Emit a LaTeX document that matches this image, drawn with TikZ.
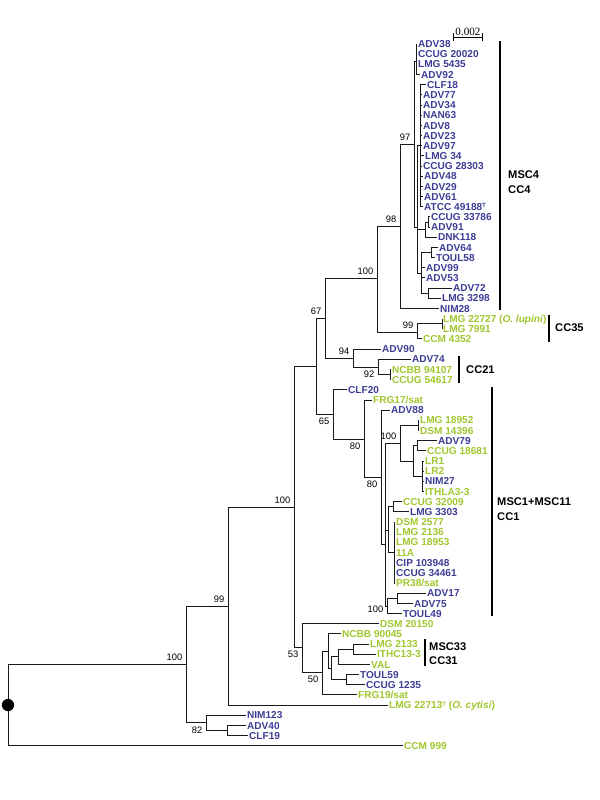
\documentclass[tikz,border=0pt]{standalone}
\usepackage{fontspec}
\setmainfont{Liberation Sans}
\newfontfamily\barfont{Liberation Serif}
\usetikzlibrary{positioning}
\definecolor{strainblue}{RGB}{60,60,150}
\definecolor{straingreen}{RGB}{160,198,45}
\newcommand{\typestrain}{{\fontsize{5.2}{5}\selectfont\raisebox{2.2pt}{T}}}
\tikzset{
  branch/.style={line width=0.75pt,draw=black!90},
  leaf/.style={anchor=west,inner xsep=0.8pt,inner ysep=0pt,text height=6.2pt,text depth=0pt,
    font=\fontsize{8.6}{9}\selectfont\bfseries},
  bleaf/.style={leaf,text=strainblue},
  gleaf/.style={leaf,text=straingreen},
  boot/.style={inner sep=0pt,text height=5.7pt,text depth=0pt,font=\fontsize{8}{8}\selectfont},
  clade/.style={anchor=west,inner sep=0pt,text height=6.8pt,text depth=0pt,
    font=\fontsize{9.5}{10}\selectfont\bfseries},
  cladebar/.style={line width=2.3pt},
  rootdot/.style={circle,fill=black,inner sep=0pt,minimum size=10.5pt},
  scalebar/.style={line width=0.6pt,|-|},
  scaletxt/.style={inner sep=0pt,font=\barfont\fontsize{9.5}{10}\selectfont}
}

\begin{document}
\begin{tikzpicture}[x=0.03cm,y=-0.03cm]
  \useasboundingbox (0,0) rectangle (600,800);

  % strains
  \node[bleaf] (l1) at (417,44.0) {ADV38};
  \node[bleaf] (l2) at (417,54.2) {CCUG 20020};
  \node[bleaf] (l3) at (417,64.3) {LMG 5435};
  \node[bleaf] (l4) at (420,74.5) {ADV92};
  \node[bleaf] (l5) at (426,84.7) {CLF18};
  \node[bleaf] (l6) at (422,94.9) {ADV77};
  \node[bleaf] (l7) at (422,105.0) {ADV34};
  \node[bleaf] (l8) at (422,115.2) {NAN63};
  \node[bleaf] (l9) at (422,125.4) {ADV8};
  \node[bleaf] (l10) at (422,135.5) {ADV23};
  \node[bleaf] (l11) at (422,145.7) {ADV97};
  \node[bleaf] (l12) at (424,155.9) {LMG 34};
  \node[bleaf] (l13) at (422,166.0) {CCUG 28303};
  \node[bleaf] (l14) at (423,176.2) {ADV48};
  \node[bleaf] (l15) at (423,186.4) {ADV29};
  \node[bleaf] (l16) at (423,196.6) {ADV61};
  \node[bleaf] (l17) at (423,206.7) {ATCC 49188\typestrain};
  \node[bleaf] (l18) at (430,216.9) {CCUG 33786};
  \node[bleaf] (l19) at (430,227.1) {ADV91};
  \node[bleaf] (l20) at (437,237.2) {DNK118};
  \node[bleaf] (l21) at (438,247.4) {ADV64};
  \node[bleaf] (l22) at (435,257.6) {TOUL58};
  \node[bleaf] (l23) at (425,267.7) {ADV99};
  \node[bleaf] (l24) at (425,277.9) {ADV53};
  \node[bleaf] (l25) at (452,288.1) {ADV72};
  \node[bleaf] (l26) at (441,298.3) {LMG 3298};
  \node[bleaf] (l27) at (439,308.4) {NIM28};
  \node[gleaf] (l28) at (442,318.6) {LMG 22727 (\textit{O.~lupini})};
  \node[gleaf] (l29) at (442,328.8) {LMG 7991};
  \node[gleaf] (l30) at (422,338.9) {CCM 4352};
  \node[bleaf] (l31) at (381,349.1) {ADV90};
  \node[bleaf] (l32) at (411,359.3) {ADV74};
  \node[gleaf] (l33) at (391,369.4) {NCBB 94107};
  \node[gleaf] (l34) at (391,379.6) {CCUG 54617};
  \node[bleaf] (l35) at (347,389.8) {CLF20};
  \node[gleaf] (l36) at (372,400.0) {FRG17/sat};
  \node[bleaf] (l37) at (390,410.1) {ADV88};
  \node[gleaf] (l38) at (419,420.3) {LMG 18952};
  \node[gleaf] (l39) at (419,430.5) {DSM 14396};
  \node[bleaf] (l40) at (437,440.6) {ADV79};
  \node[gleaf] (l41) at (426,450.8) {CCUG 18681};
  \node[gleaf] (l42) at (424,461.0) {LR1};
  \node[gleaf] (l43) at (424,471.1) {LR2};
  \node[bleaf] (l44) at (424,481.3) {NIM27};
  \node[gleaf] (l45) at (424,491.5) {ITHLA3-3};
  \node[gleaf] (l46) at (402,501.7) {CCUG 32009};
  \node[bleaf] (l47) at (409,511.8) {LMG 3303};
  \node[gleaf] (l48) at (395,522.0) {DSM 2577};
  \node[gleaf] (l49) at (395,532.2) {LMG 2136};
  \node[gleaf] (l50) at (395,542.3) {LMG 18953};
  \node[gleaf] (l51) at (395,552.5) {11A};
  \node[bleaf] (l52) at (395,562.7) {CIP 103948};
  \node[bleaf] (l53) at (395,572.8) {CCUG 34461};
  \node[gleaf] (l54) at (395,583.0) {PR38/sat};
  \node[bleaf] (l55) at (426,593.2) {ADV17};
  \node[bleaf] (l56) at (413,603.4) {ADV75};
  \node[bleaf] (l57) at (402,613.5) {TOUL49};
  \node[gleaf] (l58) at (379,623.7) {DSM 20150};
  \node[gleaf] (l59) at (341,633.9) {NCBB 90045};
  \node[gleaf] (l60) at (369,644.0) {LMG 2133};
  \node[gleaf] (l61) at (376,654.2) {ITHC13-3};
  \node[gleaf] (l62) at (370,664.4) {VAL};
  \node[bleaf] (l63) at (359,674.5) {TOUL59};
  \node[bleaf] (l64) at (365,684.7) {CCUG 1235};
  \node[gleaf] (l65) at (357,694.9) {FRG19/sat};
  \node[gleaf] (l66) at (388,705.1) {LMG 22713\typestrain{} (\textit{O.~cytisi})};
  \node[bleaf] (l67) at (246,715.2) {NIM123};
  \node[bleaf] (l68) at (246,725.4) {ADV40};
  \node[bleaf] (l69) at (248,735.6) {CLF19};
  \node[gleaf] (l70) at (403,745.7) {CCM 999};

  % internal nodes
  \coordinate (root) at (8,705);
  \coordinate (n100b) at (186,664);
  \coordinate (n82) at (206,722.6);
  \coordinate (n82b) at (227,730.5);
  \coordinate (n99) at (228,606);
  \coordinate (n100a) at (294,507);
  \coordinate (nX) at (316,366);
  \coordinate (n67) at (325,318);
  \coordinate (n100c) at (377,278);
  \coordinate (n98) at (400,226);
  \coordinate (n97) at (414,144);
  \coordinate (nK) at (416,61);
  \coordinate (nU) at (417,227);
  \coordinate (nN) at (420,145.7);
  \coordinate (nL) at (425,229);
  \coordinate (nM) at (428,222);
  \coordinate (nS) at (421,273);
  \coordinate (nP) at (431,252.5);
  \coordinate (nR) at (428,293.2);
  \coordinate (n99b) at (417,332);
  \coordinate (nO) at (442,323.7);
  \coordinate (n94) at (353,358);
  \coordinate (n92) at (378,367);
  \coordinate (nV) at (390,374.5);
  \coordinate (n65) at (333,414);
  \coordinate (n80a) at (364,439);
  \coordinate (n80b) at (381,477);
  \coordinate (nG) at (385,544);
  \coordinate (nA) at (400,443);
  \coordinate (nE) at (418,425.4);
  \coordinate (nB) at (413,461);
  \coordinate (nC) at (417,445.7);
  \coordinate (nD) at (422,476.2);
  \coordinate (nIJ) at (388,530);
  \coordinate (nI) at (393,506.7);
  \coordinate (nJ) at (394,552.5);
  \coordinate (nH) at (387,606);
  \coordinate (nF) at (397,598.3);
  \coordinate (n53) at (302,647);
  \coordinate (n50) at (322,672);
  \coordinate (nY) at (328,651);
  \coordinate (nAD) at (331,668);
  \coordinate (nAB) at (338,656);
  \coordinate (nAA) at (353,649.1);
  \coordinate (nAC) at (346,679.6);

  % branches
  \draw[branch] (root) |- (n100b);
  \draw[branch] (root) |- (l70.west);
  \draw[branch] (n100b) |- (n99);
  \draw[branch] (n100b) |- (n82);
  \draw[branch] (n82) |- (l67.west);
  \draw[branch] (n82) |- (n82b);
  \draw[branch] (n82b) |- (l68.west);
  \draw[branch] (n82b) |- (l69.west);
  \draw[branch] (n99) |- (n100a);
  \draw[branch] (n99) |- (l66.west);
  \draw[branch] (n100a) |- (nX);
  \draw[branch] (n100a) |- (n53);
  \draw[branch] (nX) |- (n67);
  \draw[branch] (nX) |- (n65);
  \draw[branch] (n67) |- (n100c);
  \draw[branch] (n67) |- (n94);
  \draw[branch] (n100c) |- (n98);
  \draw[branch] (n100c) |- (n99b);
  \draw[branch] (n98) |- (n97);
  \draw[branch] (n98) |- (l27.west);
  \draw[branch] (n97) |- (nK);
  \draw[branch] (n97) |- (nU);
  \foreach \c in {1,...,4} \draw[branch] (nK) |- (l\c.west);
  \draw[branch] (nU) |- (nN);
  \draw[branch] (nU) |- (nL);
  \draw[branch] (nU) |- (nS);
  \foreach \c in {5,...,17} \draw[branch] (nN) |- (l\c.west);
  \draw[branch] (nL) |- (nM);
  \draw[branch] (nL) |- (l20.west);
  \draw[branch] (nM) |- (l18.west);
  \draw[branch] (nM) |- (l19.west);
  \draw[branch] (nS) |- (nP);
  \draw[branch] (nS) |- (l23.west);
  \draw[branch] (nS) |- (l24.west);
  \draw[branch] (nS) |- (nR);
  \draw[branch] (nP) |- (l21.west);
  \draw[branch] (nP) |- (l22.west);
  \draw[branch] (nR) |- (l25.west);
  \draw[branch] (nR) |- (l26.west);
  \draw[branch] (n99b) |- (nO);
  \draw[branch] (n99b) |- (l30.west);
  \draw[branch] (nO) |- (l28.west);
  \draw[branch] (nO) |- (l29.west);
  \draw[branch] (n94) |- (l31.west);
  \draw[branch] (n94) |- (n92);
  \draw[branch] (n92) |- (l32.west);
  \draw[branch] (n92) |- (nV);
  \draw[branch] (nV) |- (l33.west);
  \draw[branch] (nV) |- (l34.west);
  \draw[branch] (n65) |- (l35.west);
  \draw[branch] (n65) |- (n80a);
  \draw[branch] (n80a) |- (l36.west);
  \draw[branch] (n80a) |- (n80b);
  \draw[branch] (n80b) |- (l37.west);
  \draw[branch] (n80b) |- (nG);
  \draw[branch] (nG) |- (nA);
  \draw[branch] (nG) |- (nIJ);
  \draw[branch] (nG) |- (nH);
  \draw[branch] (nA) |- (nE);
  \draw[branch] (nA) |- (nB);
  \draw[branch] (nE) |- (l38.west);
  \draw[branch] (nE) |- (l39.west);
  \draw[branch] (nB) |- (nC);
  \draw[branch] (nB) |- (nD);
  \draw[branch] (nC) |- (l40.west);
  \draw[branch] (nC) |- (l41.west);
  \foreach \c in {42,...,45} \draw[branch] (nD) |- (l\c.west);
  \draw[branch] (nIJ) |- (nI);
  \draw[branch] (nIJ) |- (nJ);
  \draw[branch] (nI) |- (l46.west);
  \draw[branch] (nI) |- (l47.west);
  \foreach \c in {48,...,54} \draw[branch] (nJ) |- (l\c.west);
  \draw[branch] (nH) |- (nF);
  \draw[branch] (nH) |- (l57.west);
  \draw[branch] (nF) |- (l55.west);
  \draw[branch] (nF) |- (l56.west);
  \draw[branch] (n53) |- (l58.west);
  \draw[branch] (n53) |- (n50);
  \draw[branch] (n50) |- (nY);
  \draw[branch] (n50) |- (l65.west);
  \draw[branch] (nY) |- (l59.west);
  \draw[branch] (nY) |- (nAD);
  \draw[branch] (nAD) |- (nAB);
  \draw[branch] (nAD) |- (nAC);
  \draw[branch] (nAB) |- (nAA);
  \draw[branch] (nAB) |- (l62.west);
  \draw[branch] (nAA) |- (l60.west);
  \draw[branch] (nAA) |- (l61.west);
  \draw[branch] (nAC) |- (l63.west);
  \draw[branch] (nAC) |- (l64.west);
  \node[rootdot] (rootmark) at (root) {};

  % bootstrap values
  \node[boot,above left=3pt and 3pt of n97] (s97) {97};
  \node[boot,above left=3pt and 3pt of n98] (s98) {98};
  \node[boot,above left=3pt and 3pt of n100c] (s100c) {100};
  \node[boot,above left=3pt and 3pt of n67] (s67) {67};
  \node[boot,above left=3pt and 3pt of n99b] (s99b) {99};
  \node[boot,above left=3pt and 3pt of n94] (s94) {94};
  \node[boot,below left=3pt and 3pt of n92] (s92) {92};
  \node[boot,below left=3pt and 3pt of n65] (s65) {65};
  \node[boot,below left=3pt and 3pt of n80a] (s80a) {80};
  \node[boot,above left=3pt and 3pt of nA] (s100A) {100};
  \node[boot,below left=3pt and 3pt of n80b] (s80b) {80};
  \node[boot,below left=0pt and 3pt of nH] (s100H) {100};
  \node[boot,above left=3pt and 3pt of n100a] (s100a) {100};
  \node[boot,above left=3pt and 3pt of n99] (s99) {99};
  \node[boot,above left=3pt and 3pt of n100b] (s100b) {100};
  \node[boot,below left=3pt and 3pt of n53] (s53) {53};
  \node[boot,below left=3pt and 3pt of n50] (s50) {50};
  \node[boot,below left=3pt and 3pt of n82] (s82) {82};

  % clade bars and names
  \coordinate (b4t) at (500,41);   \coordinate (b4b) at (500,310);
  \coordinate (b35t) at (549,315); \coordinate (b35b) at (549,342);
  \coordinate (b21t) at (459,356); \coordinate (b21b) at (459,383);
  \coordinate (b1t) at (492,387);  \coordinate (b1b) at (492,616);
  \coordinate (b31t) at (425,639); \coordinate (b31b) at (425,666);
  \draw[cladebar] (b4t) -- (b4b);
  \draw[cladebar] (b35t) -- (b35b);
  \draw[cladebar] (b21t) -- (b21b);
  \draw[cladebar] (b1t) -- (b1b);
  \draw[cladebar] (b31t) -- (b31b);

  \node[clade] (msc4) at (508,175) {MSC4};
  \node[clade,below=5pt of msc4.south west,anchor=north west] (cc4) {CC4};
  \node[clade] (cc35) at (555,328) {CC35};
  \node[clade] (cc21) at (466,370) {CC21};
  \node[clade] (msc1) at (497,502) {MSC1+MSC11};
  \node[clade,below=5pt of msc1.south west,anchor=north west] (cc1) {CC1};
  \node[clade] (msc33) at (429,647) {MSC33};
  \node[clade,below=4pt of msc33.south west,anchor=north west] (cc31) {CC31};

  % scale
  \coordinate (sb1) at (453,37);
  \coordinate (sb2) at (483,37);
  \draw[scalebar] (sb1) -- (sb2);
  \node[scaletxt,anchor=base] (sbtxt) at (468,35.5) {0.002};
\end{tikzpicture}
\end{document}
